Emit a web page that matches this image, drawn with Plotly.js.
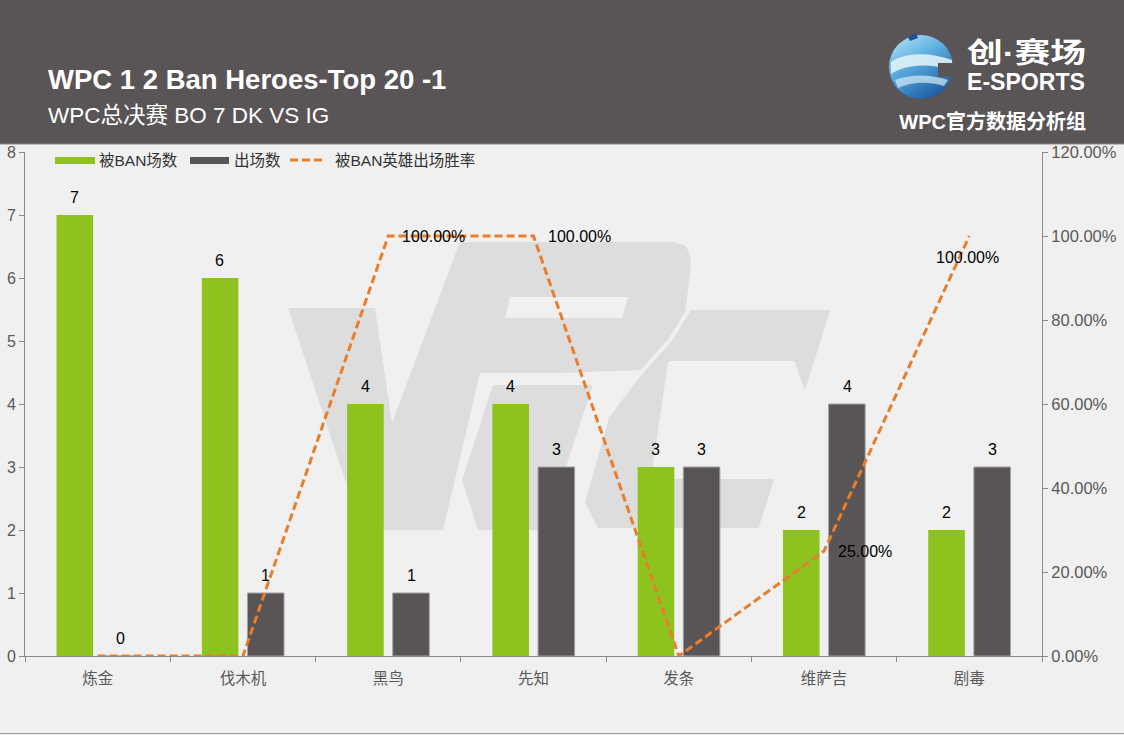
<!DOCTYPE html>
<html>
<head>
<meta charset="utf-8">
<script src="https://cdn.plot.ly/plotly-3.0.1.min.js"></script>
<style>
  html, body { margin: 0; padding: 0; overflow: hidden; background: #F0F0F0; }
  #wrap { position: relative; width: 1124px; height: 735px; background: #F0F0F0; }
  #deco { position: absolute; left: 0; top: 0; }
  #chart { position: absolute; left: 0; top: 0; width: 1124px; height: 735px; }
</style>
</head>
<body>
<div id="wrap">
  <svg id="deco" width="1124" height="735" xmlns="http://www.w3.org/2000/svg">
    <defs>
      <linearGradient id="sph" x1="0" y1="0" x2="0.6" y2="1">
        <stop offset="0" stop-color="#BFE6F5"/>
        <stop offset="0.45" stop-color="#5FB2E2"/>
        <stop offset="1" stop-color="#1F5FA8"/>
      </linearGradient>
    </defs>
    <rect x="0" y="0" width="1124" height="144" fill="#595556"/>
    <line x1="0" y1="144" x2="1124" y2="144" stroke="#8A8A8A" stroke-width="1"/>
    <line x1="0" y1="733.5" x2="1124" y2="733.5" stroke="#9A9A9A" stroke-width="1"/>
    <!-- watermark -->
    <g fill="#DDDDDD">
      <polygon points="288,308 375,308 392,423 460,242 673,242 686,246 691,258 690,273 683,330 668,360 643,370 560,373 480,373 443,530 383,530 345,480"/>
      <polygon points="493,385 593,385 545,530 478,530 462,480"/>
      <polygon points="690,308 833,308 805,397 793,363 670,363 653,477 777,477 760,530 597,530 583,503 607,417 637,377 670,340" stroke="#F0F0F0" stroke-width="4" stroke-linejoin="round"/>
    </g>
    <polygon points="510,297 628,297 622,318 505,318" fill="#F0F0F0"/>
    <!-- header texts -->
    <g font-family="'Liberation Sans', Arial, 'Noto Sans CJK SC', sans-serif" fill="#FFFFFF">
      <text x="48" y="89" font-size="27.5" font-weight="bold">WPC 1 2 Ban Heroes-Top 20 -1</text>
      <text x="48" y="123" font-size="22.5">WPC总决赛 BO 7 DK VS IG</text>
      <text x="1086" y="129" font-size="20" font-weight="bold" text-anchor="end">WPC官方数据分析组</text>
      <text x="967" y="63" font-size="28" font-weight="bold" textLength="119" lengthAdjust="spacingAndGlyphs">创·赛场</text>
      <text x="967" y="90" font-size="23" font-weight="bold" textLength="118" lengthAdjust="spacingAndGlyphs">E-SPORTS</text>
    </g>
    <!-- sphere logo -->
    <circle cx="921" cy="67" r="32" fill="url(#sph)"/>
    <path d="M891,62 C905,52 930,52 952,60 L952,70 C930,63 906,64 891,74 Z" fill="#E8F4FA" opacity="0.85"/>
    <path d="M895,80 C910,74 930,74 948,80 L944,86 C928,81 911,82 898,88 Z" fill="#D6ECF7" opacity="0.7"/>
    <rect x="938" y="63" width="16" height="14" fill="#595556"/>
    <path d="M908,37 L916,33 L918,38 L910,41 Z" fill="#1F4F96"/>
  </svg>
  <div id="chart"></div>
</div>
<script>
const categories = ['炼金', '伐木机', '黑鸟', '先知', '发条', '维萨吉', '剧毒'];
const banCount = [7, 6, 4, 4, 3, 2, 2];
const playCount = [0, 1, 1, 3, 3, 4, 3];
const winRate = [0, 0, 1, 1, 0, 0.25, 1];
const seriesNames = ['被BAN场数', '出场数', '被BAN英雄出场胜率'];

const FONT = "'Liberation Sans', Arial, 'Noto Sans CJK SC', sans-serif";
const GREEN = '#8DC21F';
const DARK = '#595556';
const ORANGE = '#E87D2C';
const AXIS = '#898989';
const TICKTXT = '#595959';

const W = 1124, H = 735;
const M = {l: 25, r: 82, t: 152, b: 79};
const pw = W - M.l - M.r, ph = H - M.t - M.b;
const px = X => (X - M.l) / pw;
const py = Y => (H - M.b - Y) / ph;

const traces = [
  {
    type: 'bar', name: seriesNames[0], x: categories, y: banCount,
    marker: {color: GREEN},
    showlegend: false, hoverinfo: 'x+y'
  },
  {
    type: 'bar', name: seriesNames[1], x: categories, y: playCount,
    marker: {color: DARK, line: {color: '#A3A3A3', width: 1}},
    showlegend: false, hoverinfo: 'x+y'
  },
  {
    type: 'scatter', mode: 'lines', name: seriesNames[2], x: categories, y: winRate,
    yaxis: 'y2',
    line: {color: ORANGE, width: 3, dash: '8px,4px'},
    showlegend: false
  }
];

const labelFont = {family: FONT, size: 16, color: '#000000'};
const annotations = [];
// value labels above bars
categories.forEach((c, i) => {
  annotations.push({x: c, y: banCount[i], xref: 'x', yref: 'y', text: String(banCount[i]),
    showarrow: false, xanchor: 'center', yanchor: 'bottom', xshift: -23, yshift: 7, font: labelFont});
  annotations.push({x: c, y: playCount[i], xref: 'x', yref: 'y', text: String(playCount[i]),
    showarrow: false, xanchor: 'center', yanchor: 'bottom', xshift: 23, yshift: 7, font: labelFont});
});
// win-rate labels (zero values not labelled)
categories.forEach((c, i) => {
  const v = winRate[i];
  if (v <= 0) return;
  const last = i === categories.length - 1;
  annotations.push({x: c, y: v, xref: 'x', yref: 'y2', text: (v * 100).toFixed(2) + '%',
    showarrow: false, xanchor: last ? 'center' : 'left', yanchor: 'middle',
    xshift: last ? -2 : 12, yshift: last ? -21 : 0, font: labelFont});
});

// custom legend
const legendY = 160;
const shapes = [
  {type: 'rect', xref: 'paper', yref: 'paper', x0: px(55), x1: px(95), y0: py(164), y1: py(157), fillcolor: GREEN, line: {width: 0}},
  {type: 'rect', xref: 'paper', yref: 'paper', x0: px(190), x1: px(229), y0: py(164), y1: py(157), fillcolor: DARK, line: {width: 0}},
  {type: 'line', xref: 'paper', yref: 'paper', x0: px(290), x1: px(326), y0: py(legendY), y1: py(legendY), line: {color: ORANGE, width: 3, dash: '8px,4px'}}
];
const legFont = {family: FONT, size: 15.5, color: '#333333'};
annotations.push(
  {xref: 'paper', yref: 'paper', x: px(97), y: py(legendY), xanchor: 'left', yanchor: 'middle', text: seriesNames[0], showarrow: false, font: legFont},
  {xref: 'paper', yref: 'paper', x: px(232), y: py(legendY), xanchor: 'left', yanchor: 'middle', text: seriesNames[1], showarrow: false, font: legFont},
  {xref: 'paper', yref: 'paper', x: px(333), y: py(legendY), xanchor: 'left', yanchor: 'middle', text: seriesNames[2], showarrow: false, font: legFont}
);

const layout = {
  width: W, height: H,
  margin: M,
  paper_bgcolor: 'rgba(0,0,0,0)',
  plot_bgcolor: 'rgba(0,0,0,0)',
  font: {family: FONT, size: 15, color: TICKTXT},
  barmode: 'group',
  bargap: 0.372,
  bargroupgap: 0.198,
  showlegend: false,
  xaxis: {
    type: 'category', showline: true, linecolor: AXIS, linewidth: 1,
    ticks: 'outside', ticklen: 5, tickcolor: AXIS, tickson: 'boundaries',
    tickfont: {family: FONT, size: 15.5, color: TICKTXT}, ticklabelstandoff: 8,
    showgrid: false, zeroline: false, fixedrange: true
  },
  yaxis: {
    range: [0, 8], dtick: 1, tick0: 0, showline: true, linecolor: AXIS, linewidth: 1,
    ticks: 'outside', ticklen: 5, tickcolor: AXIS,
    tickfont: {family: FONT, size: 16, color: TICKTXT},
    showgrid: false, zeroline: false, fixedrange: true
  },
  yaxis2: {
    overlaying: 'y', side: 'right', range: [0, 1.2], dtick: 0.2, tick0: 0, tickformat: '.2%',
    showline: true, linecolor: AXIS, linewidth: 1,
    ticks: 'outside', ticklen: 5, tickcolor: AXIS,
    tickfont: {family: FONT, size: 16.5, color: TICKTXT},
    showgrid: false, zeroline: false, fixedrange: true
  },
  shapes: shapes,
  annotations: annotations
};

Plotly.newPlot('chart', traces, layout, {displayModeBar: false, staticPlot: true});
</script>
</body>
</html>
